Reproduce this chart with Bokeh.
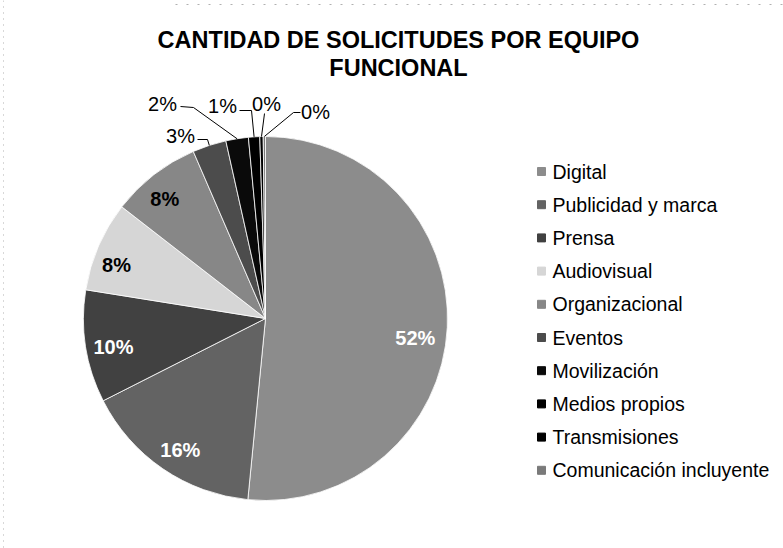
import numpy as np
from bokeh.plotting import figure
from bokeh.models import Range1d
from bokeh.embed import file_html
from bokeh.resources import INLINE
from bokeh.core.properties import value

# ---------------- data ----------------
categories = ["Digital", "Publicidad y marca", "Prensa", "Audiovisual",
              "Organizacional", "Eventos", "Movilización", "Medios propios",
              "Transmisiones", "Comunicación incluyente"]
shares = [51.6, 16.0, 10.0, 8.0, 8.0, 3.0, 2.0, 1.0, 0.3, 0.2]
title_lines = ["CANTIDAD DE SOLICITUDES POR EQUIPO", "FUNCIONAL"]

# ---------------- style / layout ----------------
colors = ["#8c8c8c", "#636363", "#414141", "#d6d6d6", "#878787",
          "#4c4c4c", "#0a0a0a", "#000000", "#000000", "#7a7a7a"]
W, H = 783, 548
FONT = "Liberation Sans"


def Y(y):
    return H - y


CX, CY, R = 265, Y(318), 182

p = figure(width=W, height=H, x_range=Range1d(0, W), y_range=Range1d(0, H),
           x_axis_type=None, y_axis_type=None, output_backend="svg",
           toolbar_location=None, min_border=0)
p.grid.visible = False
p.outline_line_color = None
p.background_fill_color = "white"
p.border_fill_color = "white"

# faint scan borders (dotted)
p.line([3, 3], [Y(0), Y(548)], line_color="#b0b0b0", line_width=1, line_dash="1 5")
p.line([175, 783], [Y(4), Y(4)], line_color="#b0b0b0", line_width=1, line_dash="2 9")

vals = np.array(shares, dtype=float)
frac = vals / vals.sum()
cum = np.concatenate([[0.0], np.cumsum(frac)])
start = np.pi / 2 - 2 * np.pi * cum[:-1]
end = np.pi / 2 - 2 * np.pi * cum[1:]
mid_cw = 2 * np.pi * (cum[:-1] + cum[1:]) / 2  # clockwise from top
pct = [f"{int(round(f * 100))}%" for f in frac]

p.wedge(x=CX, y=CY, radius=R, start_angle=start, end_angle=end,
        direction="clock", fill_color=colors, line_color="white", line_width=0.8)

# inside labels (radial fraction and small angular shift are layout)
inside = [0, 1, 2, 3, 4]
in_colors = ["white", "white", "white", "black", "black"]
rfs = [0.83, 0.86, 0.85, 0.87, 0.86]
dang = np.radians([4.7, -1.4, -1.7, -3.7, -2.3])
lx = [CX + rfs[k] * R * np.sin(mid_cw[i] + dang[k]) for k, i in enumerate(inside)]
ly = [CY + rfs[k] * R * np.cos(mid_cw[i] + dang[k]) for k, i in enumerate(inside)]
p.text(x=lx, y=ly, text=[pct[i] for i in inside], text_color=in_colors,
       text_font=value(FONT), text_font_size="20px", text_font_style="bold",
       text_align="center", text_baseline="middle")

# outside labels with leader lines (label positions are layout)
outside = [5, 6, 7, 8, 9]
out_pos = [(180, 135), (162, 103), (222, 105), (266, 103), (315, 111)]
elbows = [[(197, 139), (207, 139)], [(180, 106), (193, 107)],
          [(239, 110), (251, 110)], [(264, 113)], [(300, 112), (293, 112)]]
for k, i in enumerate(outside):
    ex = CX + R * np.sin(mid_cw[i])
    ey = CY + R * np.cos(mid_cw[i])
    xs = [e[0] for e in elbows[k]] + [ex]
    ys = [Y(e[1]) for e in elbows[k]] + [ey]
    p.line(xs, ys, line_color="black", line_width=1)
p.text(x=[q[0] for q in out_pos], y=[Y(q[1]) for q in out_pos],
       text=[pct[i] for i in outside], text_color="black",
       text_font=value(FONT), text_font_size="20px",
       text_align="center", text_baseline="middle")

# title
p.text(x=[398, 398], y=[Y(39), Y(67)], text=title_lines, text_color="black",
       text_font=value(FONT), text_font_size="23.5px", text_font_style="bold",
       text_align="center", text_baseline="middle")

# legend
LX, LY0, LDY = 541, 171, 33.2
ly_leg = [Y(LY0 + j * LDY) for j in range(len(categories))]
p.scatter(x=[LX] * len(categories), y=ly_leg, marker="square", size=8,
          fill_color=colors, line_color=colors)
p.text(x=[LX + 11] * len(categories), y=ly_leg, text=categories,
       text_color="black", text_font=value(FONT), text_font_size="19.5px",
       text_align="left", text_baseline="middle")

open("out.html", "w").write(file_html(p, INLINE))
